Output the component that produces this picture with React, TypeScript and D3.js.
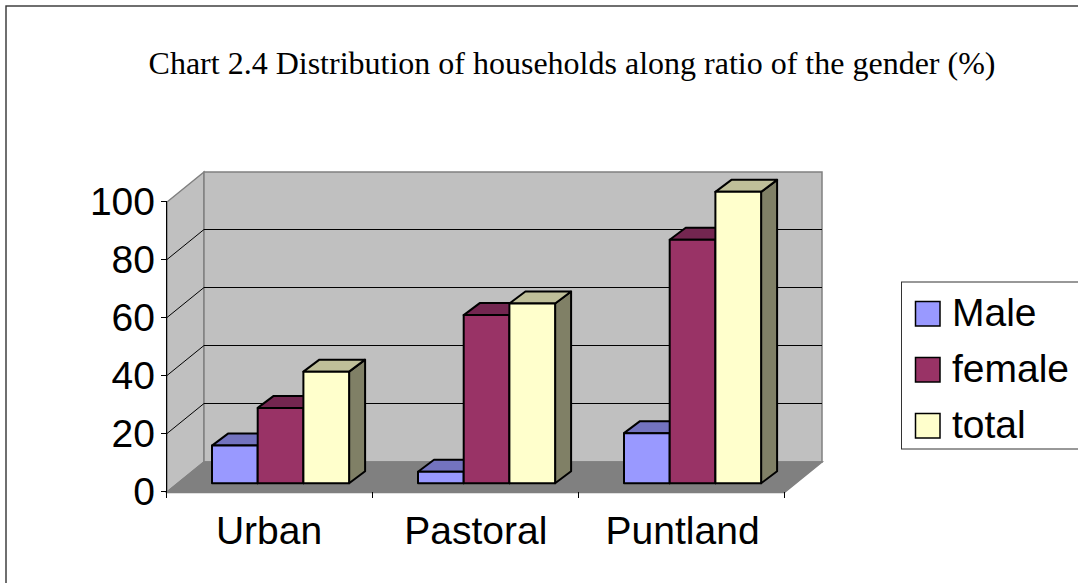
import React from "react";
import * as d3 from "d3";

const title = "Chart 2.4 Distribution of households along ratio of the gender (%)";
const categories = ["Urban", "Pastoral", "Puntland"];
const seriesNames = ["Male", "female", "total"];
const maleValues = [13, 4, 17.3];
const femaleValues = [26, 58, 84];
const totalValues = [38.5, 62, 100.5];
const yTicks = [0, 20, 40, 60, 80, 100];
const colors = ["#9999FF", "#993366", "#FFFFCC"];
const topColors = ["#7373BF", "#732650", "#BFBF99"];
const sideColors = ["#606099", "#5C1F3D", "#808066"];

const W = 1078, H = 583;
const X0 = 167, X1 = 785, Y0 = 492, Y100 = 202;
const DX = 37, DY = -30;
const BAR_W = 45.7, BAR_OFFSET = 45;
const BAR_DX = 16, BAR_DY = -12, BAR_BASE_SHIFT = 8.7;

const x = d3.scaleBand<string>().domain(categories).range([X0, X1]);
const y = d3.scaleLinear().domain([0, 100]).range([Y0, Y100]);
const sans = "'Liberation Sans', Arial, sans-serif";
const allSeries = [maleValues, femaleValues, totalValues];

const poly = (pts: [number, number][]) => pts.map((p) => p.join(",")).join(" ");

export default function App() {
  return (
    <svg width={W} height={H} viewBox={`0 0 ${W} ${H}`} style={{ position: "fixed", left: 0, top: 0, display: "block", background: "#fff" }}>
      <rect x={6} y={6} width={W + 20} height={H + 20} fill="#fff" stroke="#333" strokeWidth={1.4} />
      <text x={572} y={74} textAnchor="middle" fontFamily="'Liberation Serif', 'Times New Roman', serif" fontSize={32} fill="#000">{title}</text>

      <polygon points={poly([[X0, Y0], [X0 + DX, Y0 + DY], [X0 + DX, Y100 + DY], [X0, Y100]])} fill="#C0C0C0" stroke="#808080" strokeWidth={1.5} />
      <polygon points={poly([[X0 + DX, Y0 + DY], [X1 + DX, Y0 + DY], [X1 + DX, Y100 + DY], [X0 + DX, Y100 + DY]])} fill="#C0C0C0" stroke="#808080" strokeWidth={1.5} />
      <polygon points={poly([[X0, Y0], [X1, Y0], [X1 + DX, Y0 + DY], [X0 + DX, Y0 + DY]])} fill="#808080" stroke="#808080" strokeWidth={1.5} />

      {yTicks.slice(1, -1).map((t) => (
        <polyline key={t} points={poly([[X0, y(t) - 0.5], [X0 + DX, y(t) + DY - 0.5], [X1 + DX, y(t) + DY - 0.5]])} fill="none" stroke="#000" strokeWidth={1} />
      ))}

      <line x1={X0 - 0.5} y1={Y100} x2={X0 - 0.5} y2={Y0} stroke="#000" strokeWidth={1} />
      <line x1={X0} y1={Y0 + 0.5} x2={X1} y2={Y0 + 0.5} stroke="#808080" strokeWidth={1.5} />
      {yTicks.map((t) => (
        <g key={t}>
          <line x1={X0 - 6} x2={X0} y1={y(t) - 0.5} y2={y(t) - 0.5} stroke="#000" strokeWidth={1} />
          <text x={155} y={y(t) + 13} textAnchor="end" fontFamily={sans} fontSize={39} fill="#000">{t}</text>
        </g>
      ))}
      {[...categories.map((c) => x(c) as number), X1].map((tx) => (
        <line key={tx} x1={tx - 0.5} x2={tx - 0.5} y1={Y0} y2={Y0 + 6} stroke="#000" strokeWidth={1} />
      ))}
      {categories.map((c, i) => (
        <text key={c} x={(x(c) as number) + x.bandwidth() / 2 - 1 + i * 0.8} y={544} textAnchor="middle" fontFamily={sans} fontSize={39} fill="#000">{c}</text>
      ))}

      {categories.map((c, ci) => (
        <g key={c}>
          {allSeries.map((vals, si) => {
            const l = (x(c) as number) + BAR_OFFSET + si * BAR_W;
            const r = l + BAR_W;
            const b = y(0) - BAR_BASE_SHIFT;
            const t = y(vals[ci]) - BAR_BASE_SHIFT;
            return (
              <g key={si} stroke="#000" strokeWidth={2} strokeLinejoin="round">
                <polygon points={poly([[r, b], [r + BAR_DX, b + BAR_DY], [r + BAR_DX, t + BAR_DY], [r, t]])} fill={sideColors[si]} />
                <polygon points={poly([[l, t], [r, t], [r + BAR_DX, t + BAR_DY], [l + BAR_DX, t + BAR_DY]])} fill={topColors[si]} />
                <rect x={l} y={t} width={BAR_W} height={b - t} fill={colors[si]} />
              </g>
            );
          })}
        </g>
      ))}

      <rect x={901.5} y={282} width={W} height={167} fill="#fff" stroke="#333" strokeWidth={1} />
      {seriesNames.map((n, i) => (
        <g key={n}>
          <rect x={915.5} y={301.5 + i * 56} width={24.5} height={24.5} fill={colors[i]} stroke="#000" strokeWidth={1.5} />
          <text x={952} y={326 + i * 56} fontFamily={sans} fontSize={39} fill="#000">{n}</text>
        </g>
      ))}
    </svg>
  );
}
